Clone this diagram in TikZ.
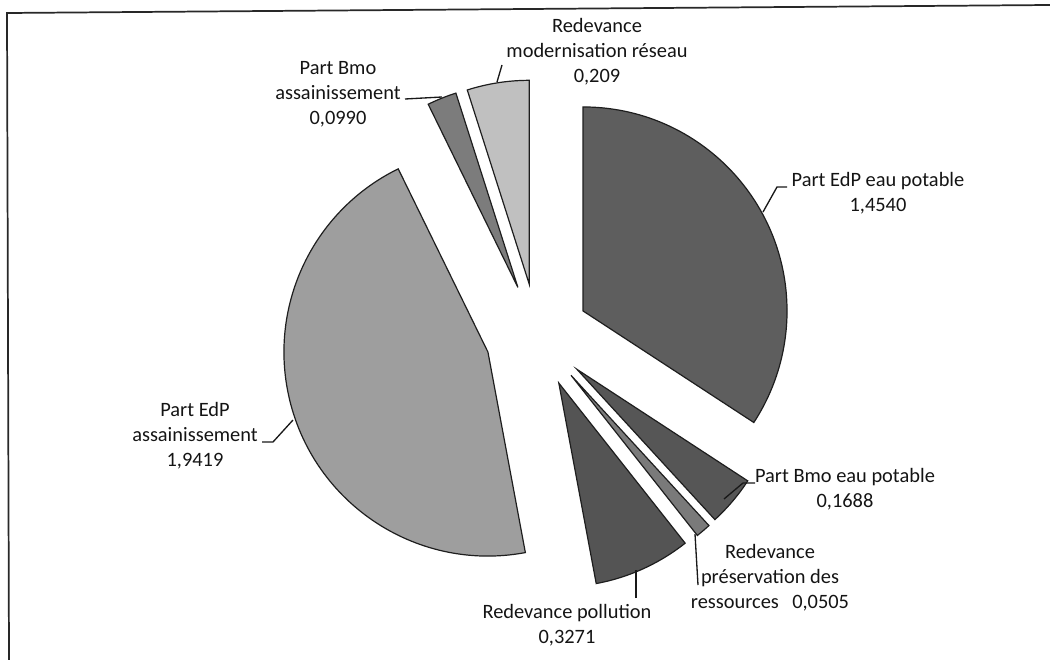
\documentclass[tikz,border=0pt]{standalone}
\usepackage{fontspec}
\setmainfont{Carlito}
\usepackage{tikz}
\usetikzlibrary{arrows.meta}

\tikzset{
  slice/.style={draw={rgb, 255:red, 30; green, 30; blue, 30}, line width=0.9},
  leader/.style={draw={rgb, 255:red, 25; green, 25; blue, 25}, line width=1},
  lbl/.style={inner sep=0.75pt, align=center, font=\fontsize{15.3}{18.75}\selectfont, color={rgb, 255:red, 20; green, 20; blue, 20}}
}

\begin{document}
\begin{tikzpicture}[x=0.75pt,y=0.75pt,yscale=-1,xscale=1]
\useasboundingbox (0,0) rectangle (1050,660);

%Shape: Frame [id:frame]
\draw [color={rgb, 255:red, 40; green, 40; blue, 40 }, line width=1.3] (1050,5) -- (7,13) -- (9,660) ;

\coordinate (pieCentre) at (537.3,335.7);

%Shape: Slice [id:edpEau]
\draw [slice, fill={rgb, 255:red, 94; green, 94; blue, 94 }] (pieCentre) ++(-28.43:52) -- ++(-90:204) arc [start angle=-90, end angle=33.15, radius=204] -- cycle ;
%Shape: Slice [id:bmoEau]
\draw [slice, fill={rgb, 255:red, 86; green, 86; blue, 86 }] (pieCentre) ++(40.30:52) -- ++(33.15:204) arc [start angle=33.15, end angle=47.45, radius=204] -- cycle ;
%Shape: Slice [id:preservation]
\draw [slice, fill={rgb, 255:red, 122; green, 122; blue, 122 }] (pieCentre) ++(49.59:52) -- ++(47.45:204) arc [start angle=47.45, end angle=51.73, radius=204] -- cycle ;
%Shape: Slice [id:pollution]
\draw [slice, fill={rgb, 255:red, 84; green, 84; blue, 84 }] (pieCentre) ++(65.57:52) -- ++(51.73:204) arc [start angle=51.73, end angle=79.43, radius=204] -- cycle ;
%Shape: Slice [id:edpAss]
\draw [slice, fill={rgb, 255:red, 158; green, 158; blue, 158 }] (pieCentre) ++(161.67:52) -- ++(79.43:204) arc [start angle=79.43, end angle=243.91, radius=204] -- cycle ;
%Shape: Slice [id:bmoAss]
\draw [slice, fill={rgb, 255:red, 124; green, 124; blue, 124 }] (pieCentre) ++(248.11:52) -- ++(243.91:204) arc [start angle=243.91, end angle=252.30, radius=204] -- cycle ;
%Shape: Slice [id:modern]
\draw [slice, fill={rgb, 255:red, 192; green, 192; blue, 192 }] (pieCentre) ++(261.15:52) -- ++(252.30:204) arc [start angle=252.30, end angle=270, radius=204] -- cycle ;

% Text Node
\node [lbl] (lblModern) at (597,52) {Redevance\\modernisation réseau\\0,209};
% Text Node
\node [lbl] (lblBmoAss) at (338,94) {Part Bmo\\assainissement\\0,0990};
% Text Node
\node [lbl] (lblEdpEau) at (878,193) {Part EdP eau potable\\1,4540};
% Text Node
\node [lbl] (lblBmoEau) at (845,489) {Part Bmo eau potable\\0,1688};
% Text Node
\node [lbl] (lblPreserv) at (770,578) {Redevance\\préservation des\\ressources\hspace{10pt}0,0505};
% Text Node
\node [lbl] (lblPollution) at (567,625) {Redevance pollution\\0,3271};
% Text Node
\node [lbl] (lblEdpAss) at (195,436) {Part EdP\\assainissement\\1,9419};

%Straight Lines [id:leaders]
\coordinate (ldModernA) at (502,65); \coordinate (ldModernB) at (497,82);
\draw [leader] (ldModernA) -- (ldModernB) ;
\coordinate (ldBmoAssA) at (405,99); \coordinate (ldBmoAssB) at (442,97);
\draw [leader] (ldBmoAssA) -- (ldBmoAssB) ;
\coordinate (ldEdpEauA) at (787,187); \coordinate (ldEdpEauK) at (777,187); \coordinate (ldEdpEauB) at (763,212);
\draw [leader] (ldEdpEauA) -- (ldEdpEauK) -- (ldEdpEauB) ;
\coordinate (ldBmoEauA) at (755,483); \coordinate (ldBmoEauK) at (743,483); \coordinate (ldBmoEauB) at (724,499);
\draw [leader] (ldBmoEauA) -- (ldBmoEauK) -- (ldBmoEauB) ;
\coordinate (ldPreservA) at (698,585); \coordinate (ldPreservB) at (695,534);
\draw [leader] (ldPreservA) -- (ldPreservB) ;
\coordinate (ldPollutionA) at (636,598); \coordinate (ldPollutionB) at (636,570);
\draw [leader] (ldPollutionA) -- (ldPollutionB) ;
\coordinate (ldEdpAssA) at (262,442); \coordinate (ldEdpAssK) at (273,442); \coordinate (ldEdpAssB) at (293,420);
\draw [leader] (ldEdpAssA) -- (ldEdpAssK) -- (ldEdpAssB) ;

\end{tikzpicture}
\end{document}
